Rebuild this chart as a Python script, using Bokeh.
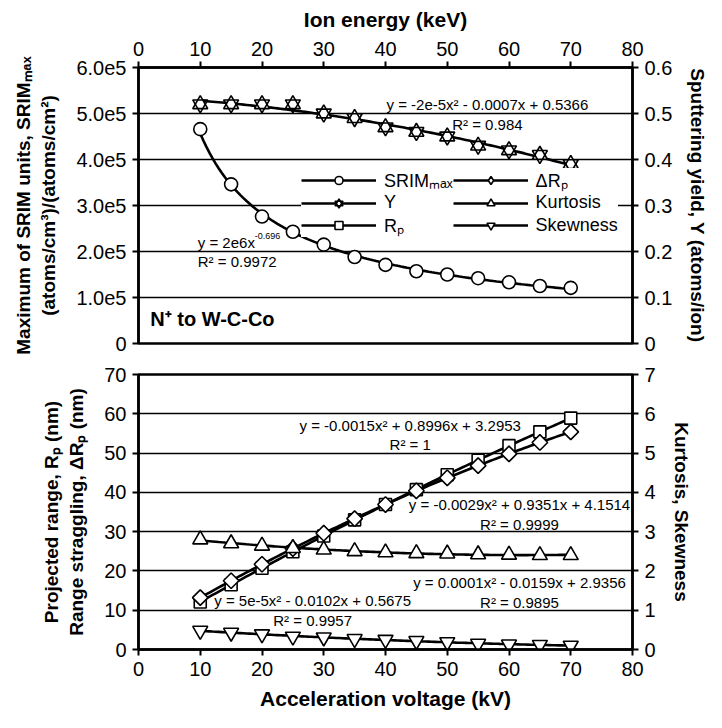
import numpy as np
from bokeh.plotting import figure
from bokeh.models import LinearAxis, Range1d, Legend, LegendItem, Label, FixedTicker
from bokeh.layouts import column
from bokeh.embed import file_html
from bokeh.resources import INLINE

# ---------------- data ----------------
voltage = [10, 15, 20, 25, 30, 35, 40, 45, 50, 55, 60, 65, 70]
srim_max = [4.66e5, 3.46e5, 2.76e5, 2.43e5, 2.15e5, 1.88e5, 1.71e5, 1.57e5, 1.50e5, 1.42e5, 1.33e5, 1.25e5, 1.21e5]
sputter_yield = [0.52, 0.52, 0.52, 0.52, 0.50, 0.49, 0.47, 0.46, 0.45, 0.43, 0.42, 0.41, 0.39]
rp = [12.1, 16.5, 20.7, 24.9, 28.9, 33.0, 36.9, 40.7, 44.5, 48.2, 51.9, 55.4, 58.9]
drp = [13.2, 17.5, 21.7, 25.7, 29.6, 33.3, 36.9, 40.4, 43.7, 46.8, 49.8, 52.7, 55.4]
kurtosis = [2.80, 2.70, 2.64, 2.58, 2.54, 2.50, 2.47, 2.45, 2.44, 2.42, 2.41, 2.40, 2.40]
skewness = [0.48, 0.43, 0.39, 0.33, 0.31, 0.27, 0.25, 0.22, 0.19, 0.15, 0.13, 0.12, 0.10]

x_ticks = [0, 10, 20, 30, 40, 50, 60, 70, 80]
srim_ticks = [0, 1e5, 2e5, 3e5, 4e5, 5e5, 6e5]
srim_tick_labels = ["0", "1.0e5", "2.0e5", "3.0e5", "4.0e5", "5.0e5", "6.0e5"]
yield_ticks = [0, 0.1, 0.2, 0.3, 0.4, 0.5, 0.6]
yield_tick_labels = ["0", "0.1", "0.2", "0.3", "0.4", "0.5", "0.6"]
range_ticks = [0, 10, 20, 30, 40, 50, 60, 70]
moment_ticks = [0, 1, 2, 3, 4, 5, 6, 7]

eq_yield = ["y = -2e-5x² - 0.0007x + 0.5366", "R² = 0.984"]
eq_srim = ["y = 2e6x", "-0.696", "R² = 0.9972"]
eq_rp = ["y = -0.0015x² + 0.8996x + 3.2953", "R² = 1"]
eq_drp = ["y = -0.0029x² + 0.9351x + 4.1514", "R² = 0.9999"]
eq_kurt = ["y = 0.0001x² - 0.0159x + 2.9356", "R² = 0.9895"]
eq_skew = ["y = 5e-5x² - 0.0102x + 0.5675", "R² = 0.9957"]

# ---------------- trend lines (fitted from the data) ----------------
xv = np.array(voltage, dtype=float)
xf = np.linspace(xv.min(), xv.max(), 121)
b, a = np.polyfit(np.log(xv), np.log(np.array(srim_max)), 1)
srim_fit = np.exp(a) * xf ** b
def quad(vals):
    return np.polyval(np.polyfit(xv, np.array(vals), 2), xf)

FONT = "Liberation Sans"
EQFONT = "Liberation Sans"
BLACK = "black"

def style_axis(ax, ticks, overrides=None, label_size="19px"):
    ax.ticker = FixedTicker(ticks=ticks)
    if overrides:
        ax.major_label_overrides = overrides
    ax.major_tick_out = 6
    ax.major_tick_in = 0
    ax.minor_tick_line_color = None
    ax.axis_line_width = 2.5
    ax.axis_line_color = BLACK
    ax.major_tick_line_width = 2
    ax.major_tick_line_color = BLACK
    ax.major_label_text_font = FONT
    ax.major_label_text_font_size = "20px"
    ax.major_label_text_color = BLACK
    ax.major_label_standoff = 6
    ax.axis_label_text_font = FONT
    ax.axis_label_text_font_style = "bold"
    ax.axis_label_text_font_size = label_size
    ax.axis_label_text_color = BLACK

def base_fig(h, ymax, xloc, bt, bb):
    p = figure(frame_width=494, frame_height=h, x_range=Range1d(0, 80), y_range=Range1d(0, ymax),
               x_axis_location=xloc, output_backend="svg", toolbar_location=None,
               min_border_left=138, min_border_right=74, min_border_top=bt, min_border_bottom=bb)
    p.outline_line_color = BLACK
    p.outline_line_width = 2.5
    p.xgrid.visible = False
    p.ygrid.grid_line_color = BLACK
    p.ygrid.grid_line_width = 1.4
    p.background_fill_color = "white"
    p.border_fill_color = "white"
    return p

mk = dict(fill_color="white", line_color=BLACK, line_width=1.6)
ln = dict(line_color=BLACK, line_width=2.6)

# ---------------- top panel ----------------
top = base_fig(276, 6e5, "above", 67, 15)
top.extra_y_ranges = {"y2": Range1d(0, 0.6)}
style_axis(top.xaxis[0], x_ticks, label_size="21px")
top.xaxis.axis_label = "Ion energy (keV)"
top.xaxis.axis_label_standoff = 8
style_axis(top.yaxis[0], srim_ticks, dict(zip(srim_ticks, srim_tick_labels)))
top.ygrid.ticker = FixedTicker(ticks=srim_ticks)
top.yaxis.axis_label = "Maximum of SRIM units, SRIMₘₐₓ\n(atoms/cm³)/(atoms/cm²)"
top.yaxis.axis_label_standoff = 14
ry = LinearAxis(y_range_name="y2", axis_label="Sputtering yield, Y (atoms/ion)")
style_axis(ry, yield_ticks, dict(zip(yield_ticks, yield_tick_labels)))
ry.axis_label_standoff = 12
top.add_layout(ry, "right")

l_srim = top.line(xf, srim_fit, **ln)
s_srim = top.scatter(voltage, srim_max, marker="circle", size=13, **mk)
yf = quad(sputter_yield)
l_y = top.line(xf, yf, y_range_name="y2", **ln)
s_y1 = top.scatter(voltage, sputter_yield, marker="triangle", size=15, y_range_name="y2", **mk)
s_y2 = top.scatter(voltage, sputter_yield, marker="inverted_triangle", size=15, y_range_name="y2",
                   fill_alpha=0, line_color=BLACK, line_width=1.6)

# legend proxies for the bottom-panel series (not drawn: y is NaN)
nan_y = [np.nan] * len(voltage)
lp = top.line(voltage, nan_y, **ln)
sp_rp = top.scatter(voltage, nan_y, marker="square", **mk)
sp_drp = top.scatter(voltage, nan_y, marker="diamond", **mk)
sp_k = top.scatter(voltage, nan_y, marker="triangle", **mk)
sp_s = top.scatter(voltage, nan_y, marker="inverted_triangle", **mk)

legend = Legend(items=[
    LegendItem(label="SRIMₘₐₓ", renderers=[l_srim, s_srim]),
    LegendItem(label="Y", renderers=[l_y, s_y1, s_y2]),
    LegendItem(label="Rₚ", renderers=[lp, sp_rp]),
    LegendItem(label="ΔRₚ", renderers=[lp, sp_drp]),
    LegendItem(label="Kurtosis", renderers=[lp, sp_k]),
    LegendItem(label="Skewness", renderers=[lp, sp_s]),
], location=(163, 106), orientation="vertical", nrows=3)
legend.glyph_width = 75
legend.glyph_height = 20
legend.label_height = 20
legend.spacing = 0
legend.padding = 0
legend.margin = 0
legend.label_standoff = 8
legend.label_text_font = FONT
legend.label_text_font_size = "18px"
legend.label_text_line_height = 1.0
legend.label_text_color = BLACK
legend.border_line_color = None
legend.background_fill_color = "white"
legend.background_fill_alpha = 1
top.add_layout(legend, "center")

def eq_label(p, x, y, text, align="center", size="15px", **kw):
    p.add_layout(Label(x=x, y=y, text=text, text_align=align, text_baseline="middle",
                       text_font=EQFONT, text_font_size=size, text_color=BLACK, **kw))

eq_label(top, 56.5, 5.2e5, eq_yield[0])
eq_label(top, 56.5, 4.77e5, eq_yield[1])
eq_label(top, 9.6, 2.2e5, eq_srim[0], align="left")
eq_label(top, 9.6, 2.2e5, eq_srim[1], align="left", size="9px", x_offset=57, y_offset=6)
eq_label(top, 9.6, 1.78e5, eq_srim[2], align="left")
top.add_layout(Label(x=1.9, y=0.53e5, text="N⁺ to W-C-Co", text_align="left", text_baseline="middle",
                     text_font=FONT, text_font_style="bold", text_font_size="20px", text_color=BLACK))

# ---------------- bottom panel ----------------
bot = base_fig(275, 70, "below", 16, 63)
bot.extra_y_ranges = {"y2": Range1d(0, 7)}
style_axis(bot.xaxis[0], x_ticks, label_size="21px")
bot.xaxis.axis_label = "Acceleration voltage (kV)"
bot.xaxis.axis_label_standoff = 8
style_axis(bot.yaxis[0], range_ticks)
bot.ygrid.ticker = FixedTicker(ticks=range_ticks)
bot.yaxis.axis_label = "Projected range, Rₚ (nm)\nRange straggling, ΔRₚ (nm)"
bot.yaxis.axis_label_standoff = 14
rm = LinearAxis(y_range_name="y2", axis_label="Kurtosis, Skewness")
style_axis(rm, moment_ticks)
rm.axis_label_standoff = 12
bot.add_layout(rm, "right")

bot.line(xf, quad(rp), **ln)
bot.scatter(voltage, rp, marker="square", size=12, **mk)
bot.line(xf, quad(drp), **ln)
bot.scatter(voltage, drp, marker="square", angle=np.pi / 4, size=11, **mk)
bot.line(xf, quad(kurtosis), y_range_name="y2", **ln)
bot.scatter(voltage, kurtosis, marker="triangle", size=15, y_range_name="y2", **mk)
bot.line(xf, quad(skewness), y_range_name="y2", **ln)
bot.scatter(voltage, skewness, marker="inverted_triangle", size=15, y_range_name="y2", **mk)

eq_label(bot, 44, 57, eq_rp[0])
eq_label(bot, 44, 52.2, eq_rp[1])
eq_label(bot, 61.7, 37, eq_drp[0])
eq_label(bot, 61.7, 31.9, eq_drp[1])
eq_label(bot, 61.7, 17.0, eq_kurt[0])
eq_label(bot, 61.7, 12.0, eq_kurt[1])
eq_label(bot, 28.2, 12.4, eq_skew[0])
eq_label(bot, 28.2, 7.3, eq_skew[1])

layout = column(top, bot, spacing=0)
open("out.html", "w").write(file_html(layout, INLINE))
